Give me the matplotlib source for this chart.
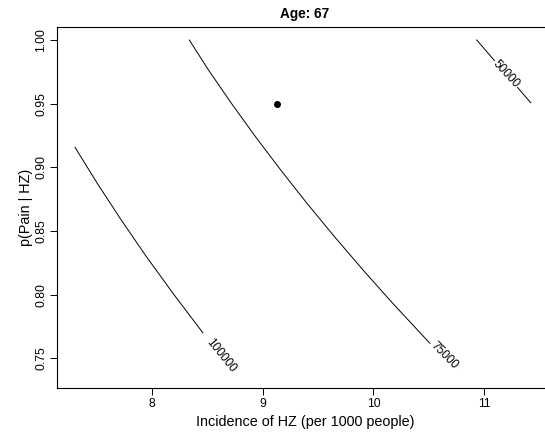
import matplotlib
matplotlib.use("Agg")
import matplotlib.pyplot as plt

plt.rcParams["font.family"] = ["Liberation Sans", "DejaVu Sans"]

# Cost-effectiveness contours (cost per QALY) over incidence and p(Pain | HZ)
levels = [50000, 75000, 100000]
contour_x = {
    50000: [10.931, 11.418],
    75000: [8.339, 8.512, 8.719, 8.936, 9.163, 9.400, 9.648, 9.906, 10.174, 10.509],
    100000: [7.308, 7.509, 7.725, 7.952, 8.192, 8.461],
}
contour_y = {
    50000: [1.000, 0.9507],
    75000: [1.000, 0.9764, 0.9502, 0.9240, 0.8979, 0.8717, 0.8455, 0.8193, 0.7931, 0.7617],
    100000: [0.9157, 0.8874, 0.8586, 0.8298, 0.8010, 0.7700],
}
# label placement (x, y, angle in degrees) for each contour level
label_pos = {
    50000: (11.195, 0.9733, -47),
    75000: (10.64, 0.7520, -45),
    100000: (8.625, 0.7520, -51),
}

# current estimate for age 67
point_x = [9.13]
point_y = [0.95]

xticks = [8, 9, 10, 11]
yticks = [0.75, 0.80, 0.85, 0.90, 0.95, 1.00]

fig = plt.figure(figsize=(5.45, 4.33), dpi=100)
ax = fig.add_axes([0.1037, 0.1039, 0.9110, 0.8331])

for lv in levels:
    ax.plot(contour_x[lv], contour_y[lv], color="black", lw=0.7, zorder=2)
    lx, ly, ang = label_pos[lv]
    ax.text(lx, ly, f"{lv}", rotation=ang, rotation_mode="anchor",
            ha="center", va="center", fontsize=8.6, color="black", zorder=3,
            bbox=dict(facecolor="white", edgecolor="none", pad=0.5))

ax.plot(point_x, point_y, "o", color="black", markersize=4, zorder=4)

ax.set_xlim(7.1416, 11.619)
ax.set_ylim(0.7266, 1.00998)
ax.set_xticks(xticks)
ax.set_xticklabels([str(t) for t in xticks])
ax.set_yticks(yticks)
ax.set_yticklabels([f"{t:.2f}" for t in yticks], rotation=90, va="center")

ax.tick_params(axis="both", length=5, width=0.7, labelsize=8.7, color="black")
ax.tick_params(axis="x", pad=2.5)
ax.tick_params(axis="y", pad=1.5)
for side in ["left", "bottom", "top", "right"]:
    ax.spines[side].set_linewidth(0.8)
    ax.spines[side].set_color("black")

ax.set_xlabel("Incidence of HZ (per 1000 people)", fontsize=10.4, labelpad=3)
ax.set_ylabel("p(Pain | HZ)", fontsize=10.4, labelpad=2)
ax.set_title("Age: 67", fontsize=9.8, fontweight="bold", pad=6.5)

fig.savefig("out.png", dpi=100)
